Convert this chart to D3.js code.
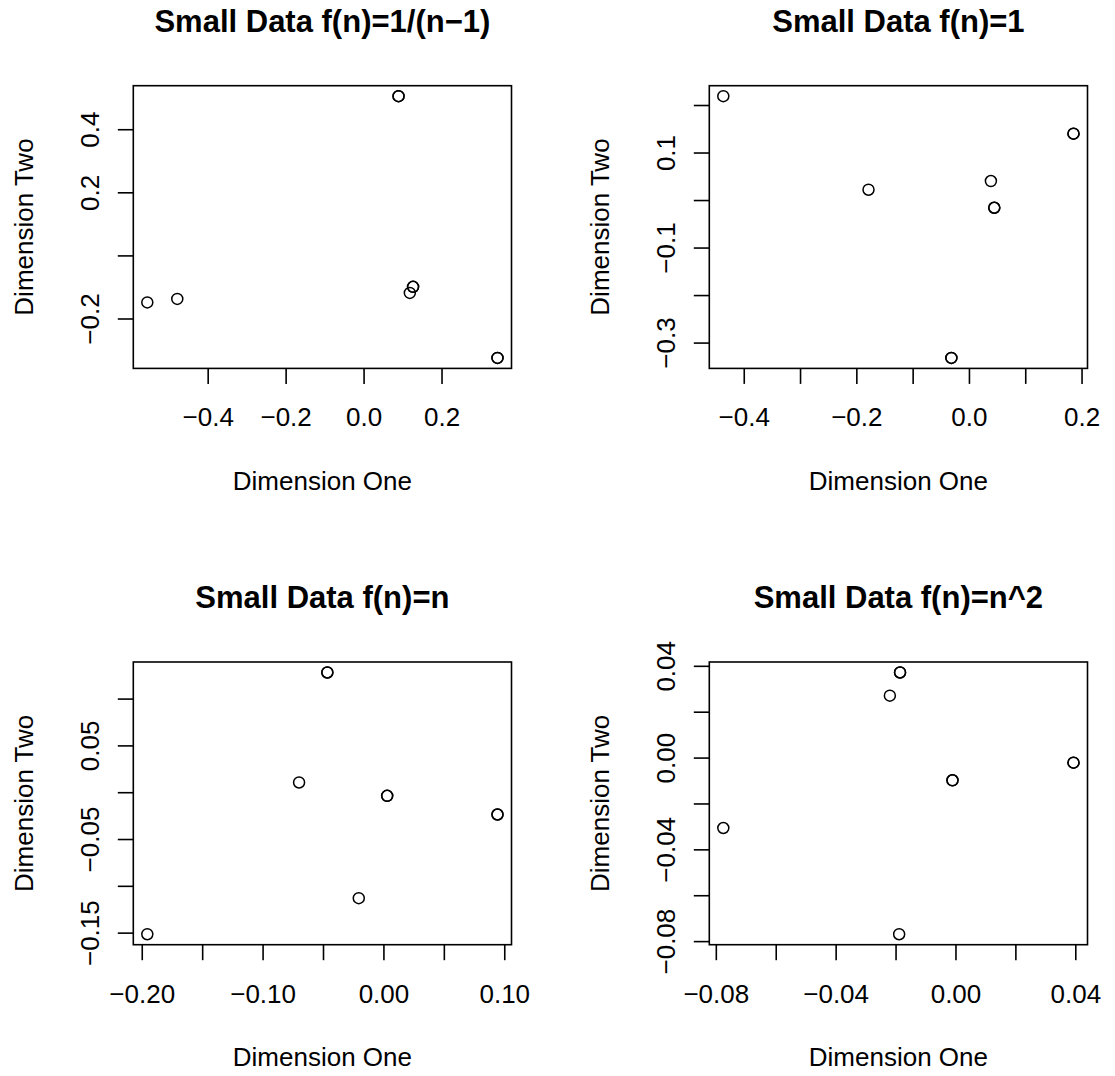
<!DOCTYPE html>
<html>
<head>
<meta charset="utf-8">
<script src="https://cdn.jsdelivr.net/npm/d3@7"></script>
<style>
  html, body { margin: 0; padding: 0; background: #fff; }
  svg { display: block; }
  text { font-family: "Liberation Sans", Arial, Helvetica, sans-serif; fill: #000; }
</style>
</head>
<body>
<svg id="chart" width="1115" height="1076"></svg>
<script>
// ---- Data ----
const titles = ["Small Data f(n)=1/(n\u22121)", "Small Data f(n)=1", "Small Data f(n)=n", "Small Data f(n)=n^2"];

const p1x = [0.0897, 0.0897, -0.5549, -0.4780, 0.1270, 0.1270, 0.1187, 0.3436, 0.3436];
const p1y = [0.5048, 0.5048, -0.1490, -0.1380, -0.0997, -0.0997, -0.1190, -0.3250, -0.3250];

const p2x = [-0.4363, 0.1857, 0.1857, -0.1784, 0.0390, 0.0450, 0.0450, -0.0312, -0.0312];
const p2y = [0.2186, 0.1397, 0.1397, 0.0217, 0.0400, -0.0162, -0.0162, -0.3323, -0.3323];

const p3x = [-0.0464, -0.0464, -0.0698, 0.0031, 0.0031, 0.0944, 0.0944, -0.0204, -0.1954];
const p3y = [0.1279, 0.1279, 0.0104, -0.0039, -0.0039, -0.0238, -0.0238, -0.1132, -0.1517];

const p4x = [-0.0185, -0.0185, -0.0219, 0.0394, 0.0394, -0.0010, -0.0010, -0.0775, -0.0188];
const p4y = [0.0371, 0.0371, 0.0270, -0.0022, -0.0022, -0.0099, -0.0099, -0.0307, -0.0770];

const xTicks1 = [-0.4, -0.2, 0.0, 0.2];
const xLabels1 = ["\u22120.4", "\u22120.2", "0.0", "0.2"];
const yTicks1 = [-0.2, 0.0, 0.2, 0.4];
const yLabels1 = ["\u22120.2", "", "0.2", "0.4"];

const xTicks2 = [-0.4, -0.3, -0.2, -0.1, 0.0, 0.1, 0.2];
const xLabels2 = ["\u22120.4", "", "\u22120.2", "", "0.0", "", "0.2"];
const yTicks2 = [-0.3, -0.2, -0.1, 0.0, 0.1, 0.2];
const yLabels2 = ["\u22120.3", "", "\u22120.1", "", "0.1", ""];

const xTicks3 = [-0.20, -0.15, -0.10, -0.05, 0.00, 0.05, 0.10];
const xLabels3 = ["\u22120.20", "", "\u22120.10", "", "0.00", "", "0.10"];
const yTicks3 = [-0.15, -0.10, -0.05, 0.00, 0.05, 0.10];
const yLabels3 = ["\u22120.15", "", "\u22120.05", "", "0.05", ""];

const xTicks4 = [-0.08, -0.06, -0.04, -0.02, 0.00, 0.02, 0.04];
const xLabels4 = ["\u22120.08", "", "\u22120.04", "", "0.00", "", "0.04"];
const yTicks4 = [-0.08, -0.06, -0.04, -0.02, 0.00, 0.02, 0.04];
const yLabels4 = ["\u22120.08", "", "\u22120.04", "", "0.00", "", "0.04"];

const xLabel = "Dimension One";
const yLabel = "Dimension Two";

// ---- Layout ----
const panels = [
  { title: titles[0], xs: p1x, ys: p1y, xt: xTicks1, xl: xLabels1, yt: yTicks1, yl: yLabels1, left: 133.3, top: 85.7 },
  { title: titles[1], xs: p2x, ys: p2y, xt: xTicks2, xl: xLabels2, yt: yTicks2, yl: yLabels2, left: 709.3, top: 85.7 },
  { title: titles[2], xs: p3x, ys: p3y, xt: xTicks3, xl: xLabels3, yt: yTicks3, yl: yLabels3, left: 133.3, top: 662.0 },
  { title: titles[3], xs: p4x, ys: p4y, xt: xTicks4, xl: xLabels4, yt: yTicks4, yl: yLabels4, left: 709.3, top: 662.0 }
];
const W = 378.2, H = 282.7;
const FONT = 26, TITLE_FONT = 31;
const TICK = 15.5;

const svg = d3.select("#chart");

function padded(arr) {
  const [a, b] = d3.extent(arr);
  const d = (b - a) * 0.04;
  return [a - d, b + d];
}

panels.forEach(p => {
  const g = svg.append("g").attr("transform", `translate(${p.left},${p.top})`);
  const x = d3.scaleLinear().domain(padded(p.xs)).range([0, W]);
  const y = d3.scaleLinear().domain(padded(p.ys)).range([H, 0]);

  // x axis
  const xa = g.append("g").attr("transform", `translate(0,${H})`)
    .call(d3.axisBottom(x).tickValues(p.xt).tickFormat((d, i) => p.xl[i])
      .tickSize(TICK).tickSizeOuter(0).tickPadding(24));
  xa.select(".domain").remove();
  xa.selectAll(".tick line").attr("stroke", "#000").attr("stroke-width", 1.6);
  xa.selectAll(".tick text").attr("font-size", FONT).attr("font-family", null).attr("fill", "#000");

  // y axis
  const ya = g.append("g")
    .call(d3.axisLeft(y).tickValues(p.yt).tickFormat((d, i) => p.yl[i])
      .tickSize(TICK).tickSizeOuter(0));
  ya.select(".domain").remove();
  ya.selectAll(".tick line").attr("stroke", "#000").attr("stroke-width", 1.6);
  ya.selectAll(".tick text")
    .attr("font-size", FONT).attr("font-family", null).attr("fill", "#000")
    .attr("x", null).attr("dy", null)
    .attr("text-anchor", "middle")
    .attr("transform", "translate(-34,0) rotate(-90)");

  // box
  g.append("rect").attr("x", 0).attr("y", 0).attr("width", W).attr("height", H)
    .attr("fill", "none").attr("stroke", "#000").attr("stroke-width", 1.6);

  // points
  g.selectAll("circle.pt").data(p.xs.map((v, i) => [v, p.ys[i]])).enter()
    .append("circle").attr("class", "pt")
    .attr("cx", d => x(d[0])).attr("cy", d => y(d[1])).attr("r", 5.5)
    .attr("fill", "none").attr("stroke", "#000").attr("stroke-width", 1.5);

  // title
  g.append("text").attr("x", W / 2).attr("y", -54)
    .attr("text-anchor", "middle").attr("font-size", TITLE_FONT).attr("font-weight", "bold")
    .text(p.title);

  // axis labels
  g.append("text").attr("x", W / 2).attr("y", H + 121.7)
    .attr("text-anchor", "middle").attr("font-size", FONT).text(xLabel);
  g.append("text").attr("transform", `translate(-100,${H / 2}) rotate(-90)`)
    .attr("text-anchor", "middle").attr("font-size", FONT).text(yLabel);
});
</script>
</body>
</html>
